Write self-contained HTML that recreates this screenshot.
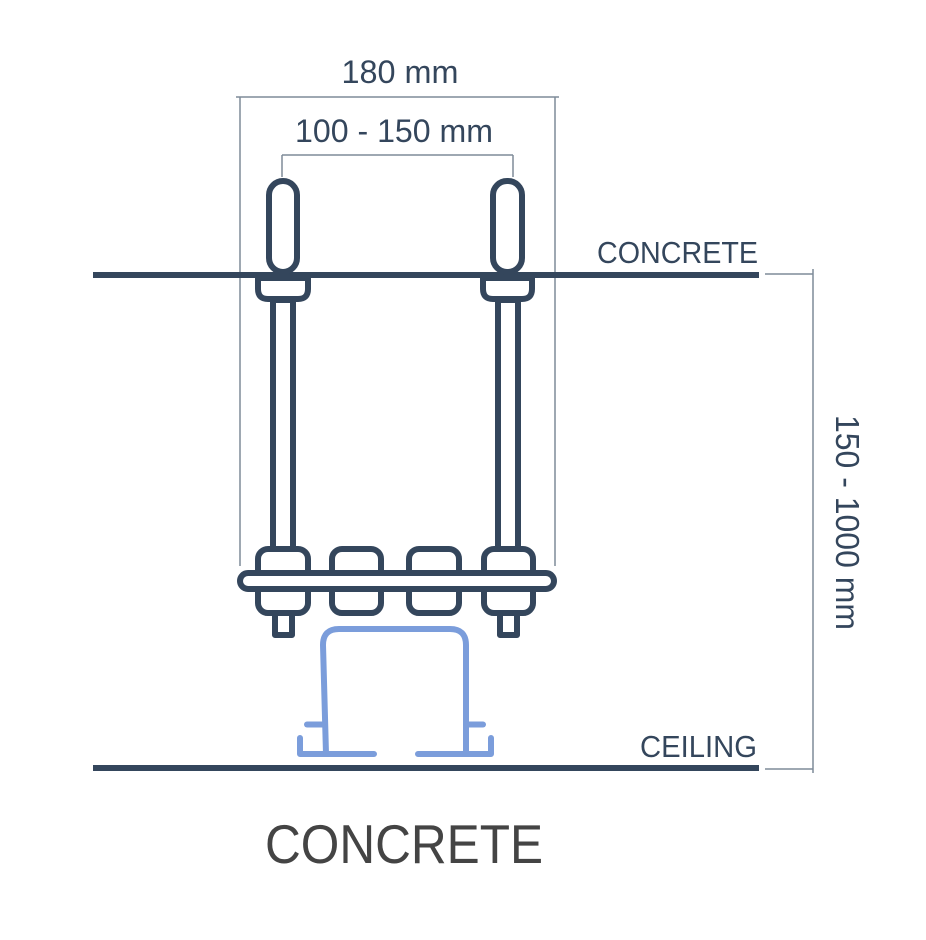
<!DOCTYPE html>
<html>
<head>
<meta charset="utf-8">
<style>
  html, body { margin: 0; padding: 0; background: #ffffff; }
  svg { display: block; }
  text { font-family: "Liberation Sans", sans-serif; }
</style>
</head>
<body>
<svg width="926" height="940" viewBox="0 0 926 940" xmlns="http://www.w3.org/2000/svg">
  <rect x="0" y="0" width="926" height="940" fill="#ffffff"/>

  <!-- thin dimension lines -->
  <g stroke="#7f8b99" stroke-width="1.5" fill="none">
    <line x1="236" y1="97" x2="559" y2="97"/>
    <line x1="240" y1="97" x2="240" y2="566"/>
    <line x1="555" y1="97" x2="555" y2="566"/>
    <line x1="282" y1="155" x2="513" y2="155"/>
    <line x1="282" y1="155" x2="282" y2="177"/>
    <line x1="513" y1="155" x2="513" y2="177"/>
    <line x1="765" y1="274" x2="813" y2="274"/>
    <line x1="765" y1="769" x2="813" y2="769"/>
    <line x1="813" y1="269" x2="813" y2="773"/>
  </g>

  <!-- concrete & ceiling lines -->
  <g stroke="#34465c" stroke-width="6">
    <line x1="93" y1="275" x2="759" y2="275"/>
    <line x1="93" y1="768" x2="759" y2="768"/>
  </g>

  <!-- bolts -->
  <g stroke="#34465c" stroke-width="6" fill="#ffffff" stroke-linejoin="round">
    <!-- left bolt -->
    <rect x="269" y="181" width="28" height="91" rx="14"/>
    <rect x="273" y="300" width="20" height="249"/>
    <rect x="275" y="600" width="17" height="35"/>
    <path d="M258 278 L258 289 Q258 299 268 299 L298 299 Q308 299 308 289 L308 278 Z"/>
    <!-- right bolt -->
    <rect x="493" y="181" width="29" height="91" rx="14"/>
    <rect x="498" y="300" width="20" height="249"/>
    <rect x="500" y="600" width="17" height="35"/>
    <path d="M483 278 L483 289 Q483 299 493 299 L522 299 Q532 299 532 289 L532 278 Z"/>
    <!-- nuts on bar -->
    <rect x="258" y="549" width="50" height="64" rx="10"/>
    <rect x="332" y="549" width="49" height="64" rx="10"/>
    <rect x="409" y="549" width="50" height="64" rx="10"/>
    <rect x="484" y="549" width="49" height="64" rx="10"/>
    <!-- bar -->
    <rect x="240" y="573" width="314" height="16" rx="8"/>
  </g>

  <!-- channel profile -->
  <g stroke="#7b9ddb" stroke-width="6" fill="none" stroke-linecap="round" stroke-linejoin="round">
    <path d="M326 754 L323 645 Q323 629 339 629 L450 629 Q466 629 466 645 L466 754"/>
    <path d="M300 738 L300 754 L374 754"/>
    <path d="M418 754 L491 754 L491 738"/>
    <path d="M307 724.5 L323 724.5"/>
    <path d="M466 724.5 L483 724.5"/>
  </g>

  <!-- labels -->
  <g fill="#34465c">
    <text x="400" y="83" font-size="32" text-anchor="middle" textLength="117" lengthAdjust="spacingAndGlyphs">180 mm</text>
    <text x="394" y="142" font-size="32" text-anchor="middle" textLength="198" lengthAdjust="spacingAndGlyphs">100 - 150 mm</text>
    <text x="597" y="263" font-size="31" textLength="161" lengthAdjust="spacingAndGlyphs">CONCRETE</text>
    <text x="640" y="757" font-size="31" textLength="117" lengthAdjust="spacingAndGlyphs">CEILING</text>
    <text transform="translate(836,415) rotate(90)" x="0" y="0" font-size="33" textLength="215" lengthAdjust="spacingAndGlyphs">150 - 1000 mm</text>
  </g>
  <text x="265" y="863" font-size="55" fill="#444444" textLength="278" lengthAdjust="spacingAndGlyphs">CONCRETE</text>
</svg>
</body>
</html>
